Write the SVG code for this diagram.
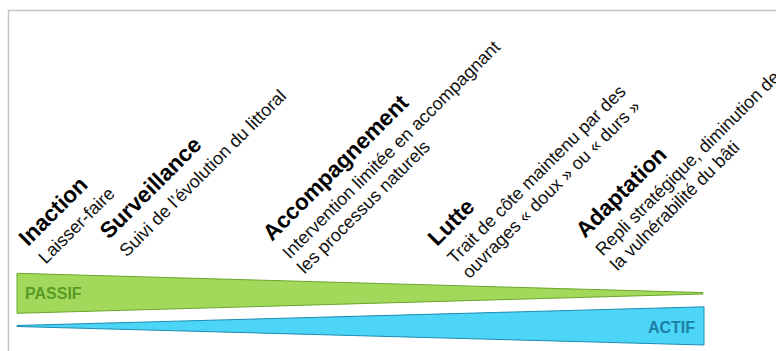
<svg xmlns="http://www.w3.org/2000/svg" width="776" height="351" viewBox="0 0 776 351">
  <style>
    .title { font-family: "Liberation Sans", Arial, sans-serif; font-weight: bold; font-size: 22.5px; fill: #000; }
    .sub { font-family: "Liberation Sans", Arial, sans-serif; font-size: 18px; fill: #111; }
    .passif { font-family: "Liberation Sans", Arial, sans-serif; font-weight: bold; font-size: 16px; fill: #5a9a28; }
    .actif { font-family: "Liberation Sans", Arial, sans-serif; font-weight: bold; font-size: 16px; fill: #1a80a4; }
  </style>
  <rect width="776" height="351" fill="#fff"/>
  <!-- frame -->
  <path d="M8.5,351 V10.5 H776" fill="none" stroke="#c4c4c4" stroke-width="1.5"/>

  <!-- strategies, written along a 45° diagonal -->
  <g id="inaction" transform="translate(28,247) rotate(-45)">
    <text class="title" x="0" y="0">Inaction</text>
    <text class="sub" x="0" y="25">Laisser-faire</text>
  </g>
  <g id="surveillance" transform="translate(109,240) rotate(-45)">
    <text class="title" x="0" y="0">Surveillance</text>
    <text class="sub" x="0" y="25">Suivi de l’évolution du littoral</text>
  </g>
  <g id="accompagnement" transform="translate(272,242) rotate(-45)">
    <text class="title" x="0" y="0">Accompagnement</text>
    <text class="sub" x="0" y="25">Intervention limitée en accompagnant</text>
    <text class="sub" x="0" y="46">les processus naturels</text>
  </g>
  <g id="lutte" transform="translate(437,247) rotate(-45)">
    <text class="title" x="0" y="0">Lutte</text>
    <text class="sub" x="0" y="25">Trait de côte maintenu par des</text>
    <text class="sub" x="0" y="46">ouvrages « doux » ou « durs »</text>
  </g>
  <g id="adaptation" transform="translate(585,239) rotate(-45)">
    <text class="title" x="0" y="0">Adaptation</text>
    <text class="sub" x="0" y="25">Repli stratégique, diminution de</text>
    <text class="sub" x="0" y="46">la vulnérabilité du bâti</text>
  </g>

  <!-- gradient wedges -->
  <g id="passif">
    <polygon points="17,273.3 703,292.6 703,294 17,313.3" fill="#a2d95a" stroke="#6aa52e" stroke-width="1"/>
    <text class="passif" x="25" y="299">PASSIF</text>
  </g>
  <g id="actif">
    <polygon points="17,325.5 704,306.8 704,345 17,326.5" fill="#4cd5f6" stroke="#1d8db2" stroke-width="1"/>
    <text class="actif" x="695" y="332.5" text-anchor="end">ACTIF</text>
  </g>
</svg>
